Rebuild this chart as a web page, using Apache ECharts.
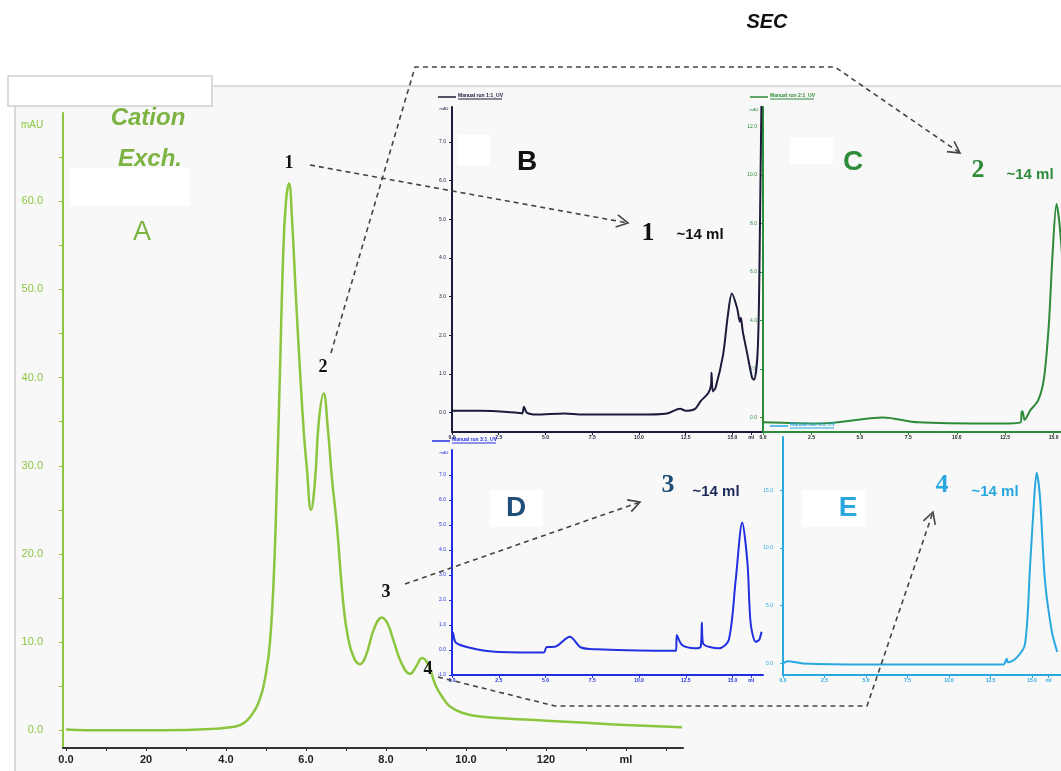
<!DOCTYPE html>
<html><head><meta charset="utf-8">
<script src="https://cdn.jsdelivr.net/npm/echarts@6/dist/echarts.min.js"></script>
<style>html,body{margin:0;padding:0;background:#fff}#c{width:1061px;height:771px}</style>
</head><body><div id="c"></div>
<script>
// ---- Panel A: cation exchange (ml, mAU)
const aVol = [0,1,2,3,3.6,4.0,4.35,4.6,4.85,5.0,5.1,5.2,5.27,5.35,5.43,5.5,5.575,5.65,5.75,5.85,5.95,6.02,6.125,6.22,6.32,6.44,6.55,6.65,6.77,6.93,7.05,7.2,7.35,7.5,7.7,7.9,8.05,8.2,8.4,8.6,8.75,8.9,9.05,9.25,9.45,9.6,9.9,10.3,11,12,13,14,15.4];
const aAbs = [0.1,0.0,0.0,0.05,0.15,0.3,0.6,1.5,3.6,6.5,10,18,27.7,40.8,54,60,62,58,49,40.8,33.5,29.8,25,28,35,38.2,34,28.5,23.3,14.5,10.5,8.2,7.5,8.5,11.5,12.8,12,10,7.5,6.4,7.2,8.2,7.5,5,3.5,2.7,2.0,1.6,1.35,1.1,0.85,0.6,0.35];
// ---- Panel B: SEC of peak 1
const bVol = [0,1.5,3.5,3.75,3.85,4.0,4.5,6.0,7,10,11.5,12.2,12.5,13.0,13.3,13.7,13.85,13.88,13.95,14.1,14.5,14.75,14.97,15.25,15.4,15.45,15.55,15.8,16.05,16.15,16.35,16.45,16.55,16.62];
const bAbs = [0.05,0.05,0.0,-0.02,0.15,0.0,-0.05,-0.02,-0.05,-0.05,-0.02,0.1,0.05,0.1,0.3,0.5,0.7,1.03,0.55,0.65,1.5,2.5,3.08,2.7,2.35,2.45,2.1,1.5,0.9,0.85,1.6,4.0,8.0,9.0];
// ---- Panel C: SEC of peak 2
const cVol = [0,3,6.2,8,12,13.3,13.35,13.4,13.5,13.8,14.2,14.5,14.75,14.95,15.15,15.3,15.5];
const cAbs = [-0.2,-0.25,0.0,-0.2,-0.25,-0.2,0.25,0.25,-0.1,0.3,0.7,1.6,3.8,6.8,8.8,8.0,6.0];
// ---- Panel D: SEC of peak 3
const dVol = [0.0,0.05,0.2,0.9,2.3,4.9,5.07,5.5,6.3,6.9,7.7,11.98,12.02,12.3,13.0,13.3,13.36,13.42,14.28,14.8,15.17,15.52,15.8,15.97,16.24,16.42,16.55];
const dAbs = [0.28,0.7,0.3,0.1,-0.07,-0.1,0.12,0.13,0.53,0.1,0.03,-0.03,0.6,0.2,0.07,0.13,1.1,0.27,0.07,0.4,2.8,5.1,3.47,1.07,0.33,0.4,0.73];
// ---- Panel E: SEC of peak 4
const eVol = [0,0.3,1.2,5,13.27,13.47,13.55,14.08,14.58,14.88,15.14,15.28,15.48,15.78,16.19,16.52];
const eAbs = [0,0.2,0,-0.1,-0.1,0.4,0.1,0.5,1.7,8.3,14.5,16.5,14.4,7.2,2.8,1.0];

// ---- tick labels
const aXTicks = [0,2,4,6,8,10,12,14];
const aXLabels = ["0.0","20","4.0","6.0","8.0","10.0","120","ml"];
const aYTicks = [0,10,20,30,40,50,60];
const aYLabels = ["0.0","10.0","20.0","30.0","40.0","50.0","60.0"];
const secXTicks = [0,2.5,5,7.5,10,12.5,15,16];
const secXLabels = ["0.0","2.5","5.0","7.5","10.0","12.5","15.0","ml"];
const bYTicks = [0,1,2,3,4,5,6,7];
const bYLabels = ["0.0","1.0","2.0","3.0","4.0","5.0","6.0","7.0"];
const cYTicks = [0,2,4,6,8,10,12];
const cYLabels = ["0.0","2.0","4.0","6.0","8.0","10.0","12.0"];
const dYTicks = [-1,0,1,2,3,4,5,6,7];
const dYLabels = ["-1.0","0.0","1.0","2.0","3.0","4.0","5.0","6.0","7.0"];
const eYTicks = [0,5,10,15];
const eYLabels = ["0.0","5.0","10.0","15.0"];

const zip = (xs, ys) => xs.map((x, i) => [x, ys[i]]);
const lab = (ticks, labels) => v => { const i = ticks.findIndex(t => Math.abs(t - v) < 1e-6); return i < 0 ? '' : labels[i]; };

const GREEN = '#8cc63f', NAVY = '#1b1b3a', DKGREEN = '#2e8b3a', BLUE = '#2030e0', CYAN = '#29a8e0';

function xAx(g, min, max, ticks, labels, color, fs, lcolor, extra) {
  return Object.assign({
    type: 'value', gridIndex: g, min, max, position: 'bottom',
    axisLine: { show: true, onZero: false, lineStyle: { color, width: 2 } },
    axisTick: { show: true, customValues: ticks, length: 3, inside: false, lineStyle: { color } },
    axisLabel: { customValues: ticks, formatter: lab(ticks, labels), fontSize: fs, color: lcolor, margin: 3, fontFamily: 'Liberation Sans', fontWeight: 'bold' },
    splitLine: { show: false }
  }, extra || {});
}
function yAx(g, min, max, ticks, labels, color, fs, lcolor, margin) {
  return {
    type: 'value', gridIndex: g, min, max,
    axisLine: { show: true, onZero: false, lineStyle: { color, width: 2 } },
    axisTick: { show: true, customValues: ticks, length: 3, lineStyle: { color } },
    axisLabel: { customValues: ticks, formatter: lab(ticks, labels), fontSize: fs, color: lcolor, margin, fontFamily: 'Liberation Sans' },
    splitLine: { show: false }
  };
}

const chart = echarts.init(document.getElementById('c'), null, { renderer: 'canvas' });

const grids = [
  { left: 63, top: 113, width: 620, height: 635 },   // A
  { left: 452, top: 107, width: 313, height: 325 },  // B
  { left: 763, top: 107, width: 310, height: 325 },  // C
  { left: 452, top: 450, width: 311, height: 225 },  // D
  { left: 783, top: 437, width: 290, height: 238 }   // E
].map(g => Object.assign(g, { outerBoundsMode: 'none', containLabel: false }));

function line(idx, data, color, w, smooth) {
  return { type: 'line', xAxisIndex: idx, yAxisIndex: idx, data, showSymbol: false, symbol: 'none',
    smooth: smooth, clip: true, lineStyle: { color, width: w }, z: 5 };
}

function chevron(from, to, len) {
  const a = Math.atan2(to[1] - from[1], to[0] - from[0]);
  const s = 0.5;
  return [[to[0] - len * Math.cos(a - s), to[1] - len * Math.sin(a - s)], to, [to[0] - len * Math.cos(a + s), to[1] - len * Math.sin(a + s)]];
}
function dashed(points) {
  const n = points.length;
  return [
    { type: 'polyline', shape: { points }, style: { stroke: '#444', lineWidth: 1.6, lineDash: [5, 4], fill: null }, z: 50, silent: true },
    { type: 'polyline', shape: { points: chevron(points[n - 2], points[n - 1], 13) }, style: { stroke: '#444', lineWidth: 1.6, fill: null }, z: 50, silent: true }
  ];
}
function txt(x, y, text, font, fill, align) {
  return { type: 'text', x, y, style: { text, font, fill, align: align || 'center', verticalAlign: 'middle' }, z: 60, silent: true };
}
function rect(x, y, w, h, fill, stroke, z) {
  return { type: 'rect', shape: { x, y, width: w, height: h }, style: { fill, stroke: stroke || null, lineWidth: 1.5 }, z: z == null ? 1 : z, silent: true };
}
function legendMark(x, y, color, name) {
  return [
    { type: 'line', shape: { x1: x, y1: y, x2: x + 18, y2: y }, style: { stroke: color, lineWidth: 1.5 }, z: 40, silent: true },
    { type: 'text', x: x + 20, y: y - 1, style: { text: name, font: 'bold 5px Liberation Sans', fill: color, verticalAlign: 'middle' }, z: 40, silent: true },
    { type: 'line', shape: { x1: x + 20, y1: y + 2, x2: x + 64, y2: y + 2 }, style: { stroke: color, lineWidth: 1 }, z: 40, silent: true }
  ];
}

const graphic = [].concat(
  [rect(15, 86, 1060, 700, '#f8f8f8', '#cfcfcf', 0),
   rect(8, 76, 204, 30, '#ffffff', '#cfcfcf', 0),
   rect(70, 168, 120, 38, '#ffffff', null, 1),
   rect(457, 135, 33, 30, '#ffffff', null, 1),
   rect(790, 137, 43, 27, '#ffffff', null, 1),
   rect(490, 490, 53, 37, '#ffffff', null, 1),
   rect(802, 490, 63, 37, '#ffffff', null, 1)],
  legendMark(438, 97, NAVY, 'Manual run 1:1_UV'),
  legendMark(750, 97, DKGREEN, 'Manual run 2:1_UV'),
  legendMark(432, 441, BLUE, 'Manual run 3:1_UV'),
  legendMark(770, 426, CYAN, 'Manual run 4:1_UV'),
  [
   txt(767, 22, 'SEC', 'italic bold 20px "Liberation Sans Narrow", "Liberation Sans"', '#111'),
   txt(148, 118, 'Cation', 'italic bold 24px "Liberation Sans"', '#7cb342'),
   txt(150, 159, 'Exch.', 'italic bold 24px "Liberation Sans"', '#7cb342'),
   txt(142, 233, 'A', '27px "Liberation Sans"', '#7cb342'),
   txt(32, 125, 'mAU', '10px "Liberation Sans"', GREEN),
   txt(444, 109, 'mAU', '4px "Liberation Sans"', NAVY),
   txt(754, 110, 'mAU', '4px "Liberation Sans"', DKGREEN),
   txt(444, 453, 'mAU', '4px "Liberation Sans"', BLUE),
   txt(289, 163, '1', 'bold 18px "Liberation Serif"', '#111'),
   txt(323, 367, '2', 'bold 18px "Liberation Serif"', '#111'),
   txt(386, 592, '3', 'bold 18px "Liberation Serif"', '#111'),
   txt(428, 669, '4', 'bold 18px "Liberation Serif"', '#111'),
   txt(527, 162, 'B', 'bold 28px "Liberation Sans"', '#111'),
   txt(853, 162, 'C', 'bold 28px "Liberation Sans"', DKGREEN),
   txt(516, 508, 'D', 'bold 28px "Liberation Sans"', '#1f4e79'),
   txt(848, 508, 'E', 'bold 28px "Liberation Sans"', CYAN),
   txt(648, 233, '1', 'bold 26px "Liberation Serif"', '#111'),
   txt(700, 235, '~14 ml', 'bold 15px "Liberation Sans"', '#111'),
   txt(978, 170, '2', 'bold 26px "Liberation Serif"', DKGREEN),
   txt(1030, 175, '~14 ml', 'bold 15px "Liberation Sans"', DKGREEN),
   txt(668, 485, '3', 'bold 26px "Liberation Serif"', '#1f4e79'),
   txt(716, 492, '~14 ml', 'bold 15px "Liberation Sans"', '#1b2a5a'),
   txt(942, 485, '4', 'bold 26px "Liberation Serif"', CYAN),
   txt(995, 492, '~14 ml', 'bold 15px "Liberation Sans"', CYAN)
  ],
  dashed([[310, 165], [628, 223]]),
  dashed([[331, 353], [415, 67], [835, 67], [960, 153]]),
  dashed([[405, 584], [640, 502]]),
  dashed([[438, 677], [555, 706], [867, 706], [933, 512]])
);

chart.setOption({
  backgroundColor: '#ffffff',
  animation: false,
  grid: grids,
  xAxis: [
    xAx(0, -0.075, 15.425, aXTicks, aXLabels, '#333', 11, '#222', {
      axisTick: { show: true, customValues: [0,1,2,3,4,5,6,7,8,9,10,11,12,13,14,15], length: 3, lineStyle: { color: '#333' } },
      axisLabel: { customValues: aXTicks, formatter: lab(aXTicks, aXLabels), fontSize: 11, color: '#222', margin: 6, fontFamily: 'Liberation Sans', fontWeight: 'bold' } }),
    xAx(1, 0, 16.74, secXTicks, secXLabels, NAVY, 5, NAVY),
    xAx(2, 0, 16.0, secXTicks, secXLabels, DKGREEN, 5, '#222'),
    xAx(3, 0, 16.63, secXTicks, secXLabels, BLUE, 5, BLUE),
    xAx(4, 0, 17.47, secXTicks, secXLabels, CYAN, 5, CYAN)
  ],
  yAxis: [
    Object.assign(yAx(0, -2, 70, aYTicks, aYLabels, GREEN, 11, GREEN, 20), {
      axisTick: { show: true, customValues: [0,5,10,15,20,25,30,35,40,45,50,55,60,65], length: 4, lineStyle: { color: GREEN } } }),
    yAx(1, -0.5, 7.9, bYTicks, bYLabels, NAVY, 5, NAVY, 6),
    yAx(2, -0.6, 12.8, cYTicks, cYLabels, DKGREEN, 5, DKGREEN, 6),
    yAx(3, -1, 8, dYTicks, dYLabels, BLUE, 5, BLUE, 6),
    yAx(4, -1, 19.6, eYTicks, eYLabels, CYAN, 5, CYAN, 10)
  ],
  series: [
    line(0, zip(aVol, aAbs), GREEN, 2.5, 0.45),
    line(1, zip(bVol, bAbs), NAVY, 2, 0.3),
    line(2, zip(cVol, cAbs), DKGREEN, 2, 0.3),
    line(3, zip(dVol, dAbs), BLUE, 2, 0.3),
    line(4, zip(eVol, eAbs), CYAN, 2, 0.3)
  ],
  graphic: { elements: graphic }
});
</script>
</body></html>
